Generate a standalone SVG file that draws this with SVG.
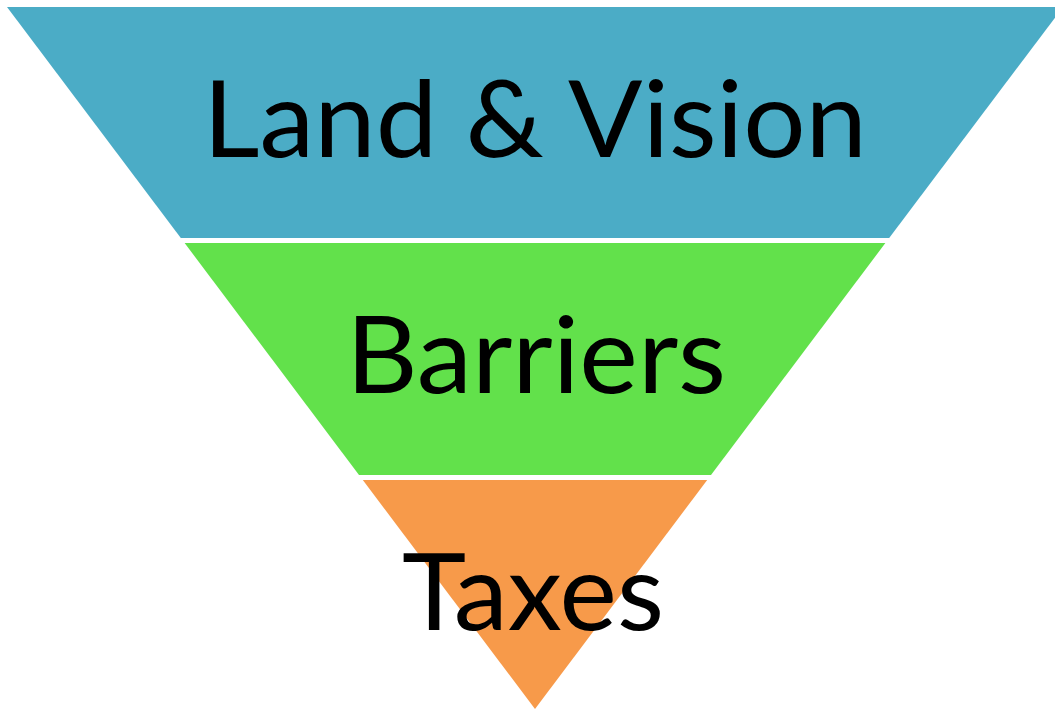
<svg xmlns="http://www.w3.org/2000/svg" width="1055" height="711" viewBox="0 0 1055 711">
  <style>
    .lbl { font-family: Lato, "Open Sans", "Liberation Sans", sans-serif; font-size: 106px; fill: #000000; text-anchor: middle; }
  </style>
  <rect x="0" y="0" width="1055" height="711" fill="#ffffff"/>
  <g id="node-land-vision">
    <polygon points="7,7 1063,7 889.2,238 180.8,238" fill="#4BACC6"/>
    <text class="lbl" x="535" y="157" textLength="664" lengthAdjust="spacingAndGlyphs">Land &amp; Vision</text>
  </g>
  <g id="node-barriers">
    <polygon points="184.6,243 885.4,243 711,475 359,475" fill="#62E14B"/>
    <text class="lbl" x="536" y="393" textLength="380" lengthAdjust="spacingAndGlyphs">Barriers</text>
  </g>
  <g id="node-taxes">
    <polygon points="362.8,480 707.2,480 535,709" fill="#F79A4A"/>
    <text class="lbl" x="533" y="630" textLength="262" lengthAdjust="spacingAndGlyphs">Taxes</text>
  </g>
  <g id="connectors"/>
</svg>
